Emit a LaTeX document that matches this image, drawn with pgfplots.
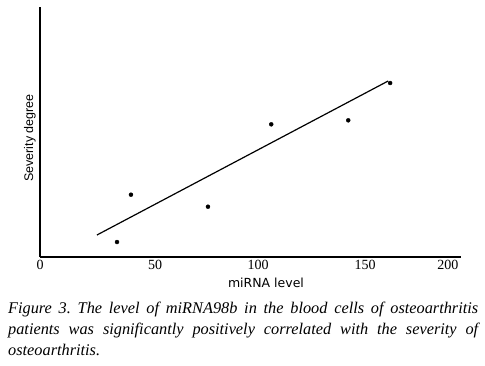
\documentclass[border=0pt]{standalone}
\usepackage{fontspec}
\setmainfont{Liberation Serif}
\newfontfamily\arial{Liberation Sans}
\newfontfamily\dejavu{DejaVu Sans}
\usepackage{pgfplots}
\pgfplotsset{compat=1.18}
\begin{document}
\frenchspacing
\begin{tikzpicture}[x=1bp,y=1bp]
\path[use as bounding box] (0,0) rectangle (485,-365);
\begin{axis}[
  at={(40bp,-257bp)}, anchor=origin,
  scale only axis, width=421bp, height=250bp,
  xmin=0, xmax=193, ymin=0, ymax=250,
  axis x line=bottom, axis y line=left,
  axis line style={line width=1.4bp, -},
  ytick=\empty,
  xtick={0,52.8,100,149,187},
  xticklabels={0,50,100,150,200},
  major tick length=0pt,
  xticklabel style={font=\fontsize{14bp}{14bp}\selectfont, yshift=0bp},
  /pgf/number format/assume math mode=true,
  clip=false,
]
\addplot[only marks, mark=*, mark size=2bp, black] coordinates {
(35.3,15) (41.7,62.3) (77,50.3) (106,132.7) (141.3,136.7) (160.5,174)
};
\addplot[black, line width=1.2bp] coordinates {(26.1,22) (159.6,176)};
\end{axis}
\node[rotate=90, font=\arial\fontsize{12.5bp}{12.5bp}\selectfont] at (30,-138) {Severity degree};
\node[font=\dejavu\fontsize{12.5bp}{12.5bp}\selectfont] at (266,-283) {miRNA level};
\node[anchor=north west, inner sep=0pt, text width=470bp, align=justify,
  font=\itshape\fontsize{16.3bp}{21bp}\selectfont] at (8,-302)
  {Figure 3. The level of miRNA98b in the blood cells of osteoarthritis\linebreak patients was significantly positively correlated with the severity of\linebreak osteoarthritis.};
\end{tikzpicture}
\end{document}
